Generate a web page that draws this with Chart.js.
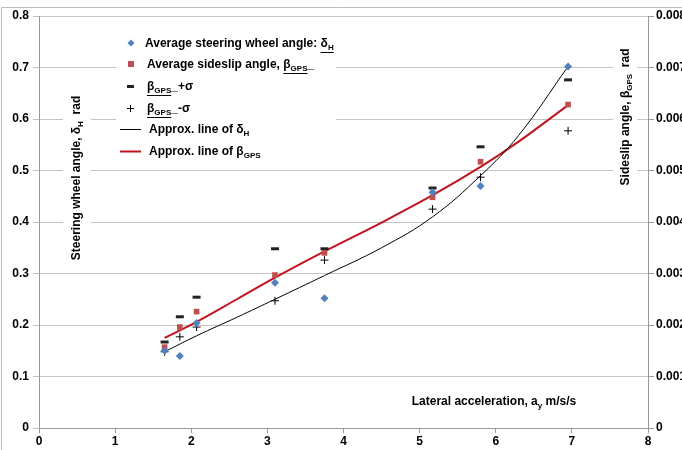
<!DOCTYPE html>
<html>
<head>
    <meta charset="UTF-8">
    <title>Steering wheel angle and sideslip angle</title>
    <script src="https://cdn.jsdelivr.net/npm/chart.js"></script>
    <style>
        body { margin: 0; background: #fff; }
        #wrap { width: 682px; height: 450px; position: relative; }
    </style>
</head>
<body>
    <div id="wrap"><canvas id="chart"></canvas></div>

    <script>
        // lateral acceleration, m/s/s
        var ay = [1.65, 1.85, 2.07, 3.1, 3.75, 5.17, 5.8, 6.95];
        // average steering wheel angle, rad (left axis)
        var deltaH = [0.15, 0.14, 0.204, 0.282, 0.252, 0.458, 0.47, 0.702];
        // average sideslip angle, rad (right axis)
        var betaGps = [0.00157, 0.00196, 0.00226, 0.00297, 0.0034, 0.00448, 0.00517, 0.00628];
        var betaPlus = [0.00167, 0.00216, 0.00254, 0.00348, 0.00348, 0.00466, 0.00546, 0.00676];
        var betaMinus = [0.00148, 0.00177, 0.00196, 0.00247, 0.00326, 0.00425, 0.00487, 0.00577];

        // approximation lines
        var approxX = [1.65, 2.07, 2.6, 3.1, 3.75, 4.5, 5.17, 5.8, 6.3, 6.95];
        var approxDelta = [0.148, 0.179, 0.215, 0.25, 0.296, 0.35, 0.41, 0.49, 0.568, 0.702];
        var approxBeta = [0.00175, 0.00206, 0.0025, 0.00292, 0.00343, 0.00399, 0.00452, 0.00507, 0.00556, 0.00627];

        var xTicks = [0, 1, 2, 3, 4, 5, 6, 7, 8];

        var BLUE = '#4f81bd', RED = '#c0504d', DARKRED = '#c0141e';
        var FONT = "'Liberation Sans', Arial, sans-serif";

        function pts(xs, ys) {
            return xs.map(function (x, i) { return { x: x, y: ys[i] }; });
        }

        // legend rows: [text, flags] flags: s = subscript, u = underline
        var legendRows = [
            { mark: 'diamond', parts: [['Average steering wheel angle: '], ['δ', 'u'], ['H', 'su']] },
            { mark: 'square', parts: [['Average sideslip angle, '], ['β', 'u'], ['GPS', 'su'], ['_', '']] },
            { mark: 'dash', parts: [['β', 'u'], ['GPS', 'su'], ['_', ''], ['+σ']] },
            { mark: 'plus', parts: [['β', 'u'], ['GPS', 'su'], ['_', ''], ['-σ']] },
            { mark: 'blackline', parts: [['Approx. line of '], ['δ'], ['H', 's']] },
            { mark: 'redline', parts: [['Approx. line of '], ['β'], ['GPS', 's']] }
        ];

        function richWidth(ctx, parts, size) {
            var w = 0;
            parts.forEach(function (p) {
                var f = p[1] || '';
                ctx.font = 'bold ' + (f.indexOf('s') >= 0 ? Math.round(size * 0.68) : size) + 'px ' + FONT;
                w += ctx.measureText(p[0]).width;
            });
            return w;
        }

        function drawRich(ctx, x, y, parts, size) {
            ctx.textBaseline = 'alphabetic';
            ctx.textAlign = 'left';
            parts.forEach(function (p) {
                var f = p[1] || '';
                var sub = f.indexOf('s') >= 0;
                var fs = sub ? Math.round(size * 0.68) : size;
                ctx.font = 'bold ' + fs + 'px ' + FONT;
                var yy = sub ? y + 3 : y;
                ctx.fillStyle = '#000';
                ctx.fillText(p[0], x, yy);
                var w = ctx.measureText(p[0]).width;
                if (f.indexOf('u') >= 0) {
                    ctx.fillRect(x, y + 5, w, 1);
                }
                x += w;
            });
        }

        var decorPlugin = {
            id: 'decor',
            beforeDatasetsDraw: function (chart) {
                var ctx = chart.ctx;
                ctx.save();
                ctx.fillStyle = '#fff';
                ctx.fillRect(116, 30, 220, 132);   // legend box
                ctx.fillRect(63, 88, 28, 182);     // left title
                ctx.fillRect(613, 36, 24, 164);    // right title
                ctx.fillRect(395, 388, 200, 24);   // x title
                ctx.restore();
            },
            afterDraw: function (chart) {
                var ctx = chart.ctx;
                ctx.save();
                // outer frame
                ctx.strokeStyle = '#bdbdbd';
                ctx.lineWidth = 1;
                ctx.beginPath();
                ctx.moveTo(1.5, 450);
                ctx.lineTo(1.5, 7.5);
                ctx.lineTo(682, 7.5);
                ctx.stroke();

                // legend
                var rowY = [47, 68, 90, 112, 133, 155];
                legendRows.forEach(function (r, i) {
                    var cy = rowY[i] - 4;
                    ctx.save();
                    if (r.mark === 'diamond') {
                        ctx.fillStyle = BLUE;
                        ctx.beginPath();
                        ctx.moveTo(131, cy - 3.5); ctx.lineTo(134.5, cy); ctx.lineTo(131, cy + 3.5); ctx.lineTo(127.5, cy);
                        ctx.closePath(); ctx.fill();
                    } else if (r.mark === 'square') {
                        ctx.fillStyle = RED;
                        ctx.fillRect(128, cy - 3, 6, 6);
                    } else if (r.mark === 'dash') {
                        ctx.fillStyle = '#222';
                        ctx.fillRect(127, cy - 1, 7, 3);
                    } else if (r.mark === 'plus') {
                        ctx.fillStyle = '#000';
                        ctx.fillRect(127, cy, 7, 1);
                        ctx.fillRect(130, cy - 3, 1, 7);
                    } else if (r.mark === 'blackline') {
                        ctx.fillStyle = '#000';
                        ctx.fillRect(120, cy, 21, 1);
                    } else {
                        ctx.fillStyle = DARKRED;
                        ctx.fillRect(120, cy - 0.5, 21, 2);
                    }
                    ctx.restore();
                    var tx = i < 1 ? 145 : (i < 4 ? 147 : 149);
                    drawRich(ctx, tx, rowY[i], r.parts, 12);
                });

                // left axis title
                var lp = [['Steering wheel angle, '], ['δ'], ['H', 's'], ['  rad']];
                var lw = richWidth(ctx, lp, 12);
                ctx.save();
                ctx.translate(80, 178);
                ctx.rotate(-Math.PI / 2);
                drawRich(ctx, -lw / 2, 0, lp, 12);
                ctx.restore();

                // right axis title
                var rp = [['Sideslip angle, '], ['β'], ['GPS', 's'], ['  rad']];
                var rw = richWidth(ctx, rp, 12);
                ctx.save();
                ctx.translate(629, 117);
                ctx.rotate(-Math.PI / 2);
                drawRich(ctx, -rw / 2, 0, rp, 12);
                ctx.restore();

                // x axis title
                var xp = [['Lateral acceleration, a'], ['y', 's'], [' m/s/s']];
                var xw = richWidth(ctx, xp, 12);
                drawRich(ctx, 494 - xw / 2, 405, xp, 12);
                ctx.restore();
            }
        };

        var tickFont = { family: FONT, size: 12, weight: 'bold' };

        new Chart(document.getElementById('chart'), {
            type: 'scatter',
            data: {
                datasets: [
                    { label: 'Average steering wheel angle', data: pts(ay, deltaH), yAxisID: 'y',
                      pointStyle: 'rectRot', pointRadius: 4, backgroundColor: BLUE, borderColor: BLUE, borderWidth: 0, order: 1 },
                    { label: 'Average sideslip angle', data: pts(ay, betaGps), yAxisID: 'y2',
                      pointStyle: 'rect', pointRadius: 4, backgroundColor: RED, borderColor: RED, borderWidth: 0, order: 2 },
                    { label: 'beta + sigma', data: pts(ay, betaPlus), yAxisID: 'y2',
                      pointStyle: 'line', pointRadius: 4, borderColor: '#222', borderWidth: 3, order: 3 },
                    { label: 'beta - sigma', data: pts(ay, betaMinus), yAxisID: 'y2',
                      pointStyle: 'cross', pointRadius: 4, borderColor: '#000', borderWidth: 1, order: 4 },
                    { label: 'Approx. line of deltaH', data: pts(approxX, approxDelta), yAxisID: 'y',
                      showLine: true, pointRadius: 0, borderColor: '#000', borderWidth: 1,
                      tension: 0.4, order: 5 },
                    { label: 'Approx. line of beta', data: pts(approxX, approxBeta), yAxisID: 'y2',
                      showLine: true, pointRadius: 0, borderColor: DARKRED, borderWidth: 2,
                      tension: 0.4, order: 6 }
                ]
            },
            options: {
                responsive: true,
                maintainAspectRatio: false,
                animation: false,
                layout: { padding: { top: 16, left: 0, right: 0, bottom: 0 } },
                plugins: { legend: { display: false }, tooltip: { enabled: false } },
                scales: {
                    x: {
                        type: 'linear', min: 0, max: 8,
                        afterBuildTicks: function (s) { s.ticks = xTicks.map(function (v) { return { value: v }; }); },
                        ticks: { font: tickFont, color: '#000', padding: 1 },
                        grid: { drawOnChartArea: false, tickLength: 5, color: '#999' },
                        border: { color: '#999' },
                        afterFit: function (s) { s.height = 22; }
                    },
                    y: {
                        position: 'left', min: 0, max: 0.8,
                        ticks: { stepSize: 0.1, font: tickFont, color: '#000', padding: 4,
                                 callback: function (v) { return v === 0 ? '0' : v.toFixed(1); } },
                        grid: { color: '#c4c4c4', tickLength: 6 },
                        border: { color: '#999' },
                        afterFit: function (s) { s.width = 39; }
                    },
                    y2: {
                        position: 'right', min: 0, max: 0.008,
                        ticks: { stepSize: 0.001, font: tickFont, color: '#000', padding: 2,
                                 callback: function (v) { return v === 0 ? '0' : v.toFixed(3); } },
                        grid: { drawOnChartArea: false, tickLength: 6, color: '#999' },
                        border: { color: '#999' },
                        afterFit: function (s) { s.width = 34; }
                    }
                }
            },
            plugins: [decorPlugin]
        });
    </script>
</body>
</html>
